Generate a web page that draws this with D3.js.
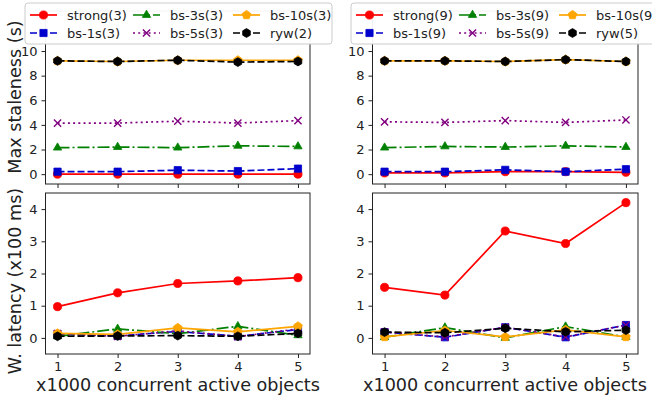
<!DOCTYPE html>
<html>
<head>
<meta charset="utf-8">
<script src="https://cdn.jsdelivr.net/npm/d3@7"></script>
<style>
  body { margin: 0; background: white; }
  svg { display: block; overflow: hidden; font-family: "DejaVu Sans", sans-serif; }
</style>
</head>
<body>
<div id="chart"></div>
<script>
// x1000 concurrent active objects
const xValues = [1, 2, 3, 4, 5];
const seriesKeys = ["strong", "bs-1s", "bs-3s", "bs-5s", "bs-10s", "ryw"];
const legendLeft = ["strong(3)", "bs-1s(3)", "bs-3s(3)", "bs-5s(3)", "bs-10s(3)", "ryw(2)"];
const legendRight = ["strong(9)", "bs-1s(9)", "bs-3s(9)", "bs-5s(9)", "bs-10s(9)", "ryw(5)"];
const staleTicks = [0, 2, 4, 6, 8, 10];
const latencyTicks = [0, 1, 2, 3, 4];

// max staleness (s), 3 replicas
const staleness3 = [
  [0, 0, 0, 0, 0],
  [0.2, 0.2, 0.32, 0.25, 0.45],
  [2.15, 2.2, 2.15, 2.3, 2.25],
  [4.15, 4.15, 4.3, 4.15, 4.35],
  [9.2, 9.15, 9.25, 9.25, 9.25],
  [9.2, 9.15, 9.25, 9.1, 9.15]
];
// max staleness (s), 9 replicas
const staleness9 = [
  [0.1, 0.1, 0.2, 0.2, 0.15],
  [0.2, 0.2, 0.35, 0.2, 0.4],
  [2.15, 2.25, 2.2, 2.3, 2.2],
  [4.25, 4.2, 4.35, 4.2, 4.4],
  [9.2, 9.2, 9.15, 9.3, 9.15],
  [9.2, 9.2, 9.15, 9.3, 9.15]
];
// write latency (x100 ms), 3 replicas
const latency3 = [
  [0.97, 1.4, 1.69, 1.77, 1.87],
  [0.12, 0.06, 0.2, 0.05, 0.26],
  [0.05, 0.28, 0.13, 0.36, 0.08],
  [0.13, 0.05, 0.22, 0.04, 0.28],
  [0.14, 0.11, 0.31, 0.19, 0.36],
  [0.05, 0.06, 0.07, 0.05, 0.14]
];
// write latency (x100 ms), 9 replicas
const latency9 = [
  [1.57, 1.33, 3.32, 2.93, 4.2],
  [0.18, 0.02, 0.33, 0.02, 0.4],
  [0.02, 0.32, 0.0, 0.35, 0.03],
  [0.18, 0.03, 0.33, 0.03, 0.4],
  [0.03, 0.23, 0.03, 0.25, 0.03],
  [0.18, 0.16, 0.3, 0.19, 0.24]
];

const W = 652, H = 403;
const styles = {
  "strong": { color: "#ff0000", dash: null, marker: "circle" },
  "bs-1s": { color: "#0000cc", dash: "7,3", marker: "square" },
  "bs-3s": { color: "#008000", dash: "12,3,2,3", marker: "triangle" },
  "bs-5s": { color: "#800080", dash: "2,3.2", marker: "x" },
  "bs-10s": { color: "#ffa500", dash: null, marker: "pentagon" },
  "ryw": { color: "#000000", dash: "7,3", marker: "hexagon" }
};

const svg = d3.select("#chart").append("svg")
  .attr("width", W)
  .attr("height", H);

function polygon(n, r, rot) {
  const pts = d3.range(n).map(i => {
    const a = rot + i * 2 * Math.PI / n;
    return [r * Math.sin(a), -r * Math.cos(a)];
  });
  return "M" + pts.map(p => p.join(",")).join("L") + "Z";
}

function drawMarker(g, type, color, x, y) {
  if (type === "x") {
    const s = 3.6;
    g.append("path")
      .attr("d", `M${x - s},${y - s}L${x + s},${y + s}M${x - s},${y + s}L${x + s},${y - s}`)
      .attr("stroke", color).attr("stroke-width", 1.4).attr("fill", "none");
    return;
  }
  let d;
  if (type === "circle") d = d3.symbol(d3.symbolCircle, 52)();
  else if (type === "square") d = d3.symbol(d3.symbolSquare, 52)();
  else if (type === "triangle") d = polygon(3, 4.8, 0);
  else if (type === "pentagon") d = polygon(5, 4.6, 0);
  else d = polygon(6, 4.4, 0);
  g.append("path")
    .attr("d", d)
    .attr("transform", `translate(${x},${y})`)
    .attr("fill", color)
    .attr("stroke", color)
    .attr("stroke-width", 0.8);
}

function panel(x0, x1, y0, y1, yDomain, yTicks, data, showXLabels) {
  const x = d3.scaleLinear().domain([0.8, 5.2]).range([x0, x1]);
  const y = d3.scaleLinear().domain(yDomain).range([y1, y0]);
  const g = svg.append("g");

  const clip = "clip" + Math.round(x0) + "_" + Math.round(y0);
  svg.append("clipPath").attr("id", clip)
    .append("rect").attr("x", x0).attr("y", y0).attr("width", x1 - x0).attr("height", y1 - y0);

  const plot = g.append("g").attr("clip-path", `url(#${clip})`);
  const line = d3.line().x((d, i) => x(xValues[i])).y(d => y(d));

  data.forEach((vals, si) => {
    const st = styles[seriesKeys[si]];
    const sg = plot.append("g");
    sg.append("path")
      .datum(vals)
      .attr("d", line)
      .attr("fill", "none")
      .attr("stroke", st.color)
      .attr("stroke-width", 1.7)
      .attr("stroke-dasharray", st.dash);
    vals.forEach((v, i) => drawMarker(sg, st.marker, st.color, x(xValues[i]), y(v)));
  });

  // frame
  g.append("rect")
    .attr("x", x0).attr("y", y0)
    .attr("width", x1 - x0).attr("height", y1 - y0)
    .attr("fill", "none").attr("stroke", "#222").attr("stroke-width", 1);

  const yAxis = d3.axisLeft(y).tickValues(yTicks).tickSize(4).tickPadding(4)
    .tickFormat(d3.format("d"));
  const ya = g.append("g").attr("transform", `translate(${x0},0)`).call(yAxis);
  const xAxis = d3.axisBottom(x).tickValues(xValues).tickSize(4).tickPadding(4)
    .tickFormat(showXLabels ? d3.format("d") : () => "");
  const xa = g.append("g").attr("transform", `translate(0,${y1})`).call(xAxis);
  [ya, xa].forEach(a => {
    a.select(".domain").remove();
    a.selectAll("line").attr("stroke", "#222");
    a.selectAll("text").attr("font-size", 13).attr("fill", "#222")
      .attr("font-family", "DejaVu Sans");
  });
  return g;
}

function legend(lx, ly, labels) {
  const g = svg.append("g");
  g.append("rect")
    .attr("x", lx).attr("y", ly)
    .attr("width", 307).attr("height", 41)
    .attr("rx", 3)
    .attr("fill", "white").attr("fill-opacity", 0.95)
    .attr("stroke", "#cccccc");
  const colX = [0, 103, 203];
  labels.forEach((lab, i) => {
    const st = styles[seriesKeys[i]];
    const cx = lx + 5 + colX[Math.floor(i / 2)];
    const cy = ly + 12 + (i % 2) * 18;
    g.append("line")
      .attr("x1", cx).attr("x2", cx + 27)
      .attr("y1", cy).attr("y2", cy)
      .attr("stroke", st.color).attr("stroke-width", 1.7)
      .attr("stroke-dasharray", st.dash);
    drawMarker(g, st.marker, st.color, cx + 13.5, cy);
    g.append("text")
      .attr("x", cx + 37).attr("y", cy + 4.6)
      .attr("font-size", 13).attr("fill", "#222")
      .text(lab);
  });
}

const top0 = 11, top1 = 184, bot0 = 193, bot1 = 354;
const staleDomain = [-0.8, 13.25], latDomain = [-0.5, 4.5];

panel(45.5, 310, top0, top1, staleDomain, staleTicks, staleness3, false);
panel(372.5, 638, top0, top1, staleDomain, staleTicks, staleness9, false);
panel(45.5, 310, bot0, bot1, latDomain, latencyTicks, latency3, true);
panel(372.5, 638, bot0, bot1, latDomain, latencyTicks, latency9, true);

// axis labels
svg.append("text")
  .attr("transform", "translate(21,97) rotate(-90)")
  .attr("text-anchor", "middle").attr("font-size", 17.6).attr("fill", "#222")
  .text("Max staleness (s)");
svg.append("text")
  .attr("transform", "translate(21,281) rotate(-90)")
  .attr("text-anchor", "middle").attr("font-size", 17.6).attr("fill", "#222")
  .text("W. latency (x100 ms)");
svg.append("text")
  .attr("x", 178).attr("y", 391)
  .attr("text-anchor", "middle").attr("font-size", 17.6).attr("fill", "#222")
  .text("x1000 concurrent active objects");
svg.append("text")
  .attr("x", 505).attr("y", 391)
  .attr("text-anchor", "middle").attr("font-size", 17.6).attr("fill", "#222")
  .text("x1000 concurrent active objects");

legend(25, 3, legendLeft);
legend(351, 3, legendRight);
</script>
</body>
</html>
